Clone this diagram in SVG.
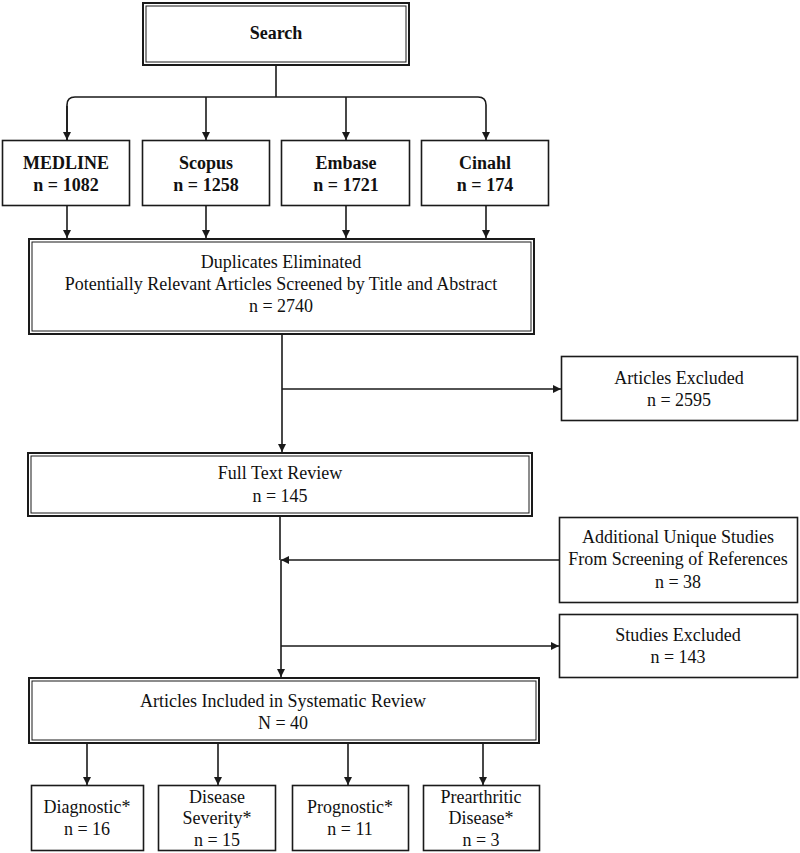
<svg xmlns="http://www.w3.org/2000/svg" width="800" height="853" viewBox="0 0 800 853">
<style>
  .bg{fill:#ffffff}
  .box{fill:#ffffff;stroke:#1a1a1a;stroke-width:1.6}
  .outer{fill:#ffffff;stroke:#1a1a1a;stroke-width:2}
  .inner{fill:none;stroke:#1a1a1a;stroke-width:1}
  .t{font-family:"Liberation Serif","Times New Roman",serif;font-size:18px;fill:#111;text-anchor:middle}
  .b{font-weight:bold}
  .ln{fill:none;stroke:#1a1a1a;stroke-width:1.6}
</style>
<defs>
  <marker id="ah" markerUnits="userSpaceOnUse" markerWidth="9" markerHeight="8" viewBox="0 0 10 10" refX="10" refY="5" orient="auto">
    <path d="M0,0 L10,5 L0,10 z" fill="#1a1a1a"/>
  </marker>
</defs>
<rect class="bg" x="0" y="0" width="800" height="853"/>

<g id="connectors">
  <path class="ln" d="M276,66 V97"/>
  <path class="ln" d="M67,140 V105 Q67,97 75,97 H478 Q486,97 486,105 V140" marker-end="url(#ah)"/>
  <path class="ln" d="M67,106 V140" marker-end="url(#ah)"/>
  <path class="ln" d="M206,97 V140" marker-end="url(#ah)"/>
  <path class="ln" d="M346,97 V140" marker-end="url(#ah)"/>
  <path class="ln" d="M67,206 V238" marker-end="url(#ah)"/>
  <path class="ln" d="M206,206 V238" marker-end="url(#ah)"/>
  <path class="ln" d="M346,206 V238" marker-end="url(#ah)"/>
  <path class="ln" d="M486,206 V238" marker-end="url(#ah)"/>
  <path class="ln" d="M282,334 V452" marker-end="url(#ah)"/>
  <path class="ln" d="M282,389 H561" marker-end="url(#ah)"/>
  <path class="ln" d="M280,516 V560"/>
  <path class="ln" d="M281,560 V677" marker-end="url(#ah)"/>
  <path class="ln" d="M559,560 H281" marker-end="url(#ah)"/>
  <path class="ln" d="M281,646 H559" marker-end="url(#ah)"/>
  <path class="ln" d="M87,743 V785" marker-end="url(#ah)"/>
  <path class="ln" d="M218,743 V785" marker-end="url(#ah)"/>
  <path class="ln" d="M348,743 V785" marker-end="url(#ah)"/>
  <path class="ln" d="M483,743 V785" marker-end="url(#ah)"/>
</g>

<g id="search">
  <rect class="outer" x="143" y="3" width="266" height="62"/>
  <rect class="inner" x="146" y="6" width="260" height="56"/>
  <text class="t b" x="276" y="39">Search</text>
</g>

<g id="medline">
  <rect class="box" x="2.5" y="140.5" width="127" height="65"/>
  <text class="t b" x="66" y="169">MEDLINE</text>
  <text class="t b" x="66" y="191">n = 1082</text>
</g>
<g id="scopus">
  <rect class="box" x="142.5" y="140.5" width="127" height="65"/>
  <text class="t b" x="206" y="169">Scopus</text>
  <text class="t b" x="206" y="191">n = 1258</text>
</g>
<g id="embase">
  <rect class="box" x="281.5" y="140.5" width="128" height="65"/>
  <text class="t b" x="346" y="169">Embase</text>
  <text class="t b" x="346" y="191">n = 1721</text>
</g>
<g id="cinahl">
  <rect class="box" x="421.5" y="140.5" width="127" height="65"/>
  <text class="t b" x="485" y="169">Cinahl</text>
  <text class="t b" x="485" y="191">n = 174</text>
</g>

<g id="duplicates">
  <rect class="outer" x="29" y="239" width="505" height="95"/>
  <rect class="inner" x="32" y="242" width="499" height="89"/>
  <text class="t" x="281" y="268">Duplicates Eliminated</text>
  <text class="t" x="281" y="290">Potentially Relevant Articles Screened by Title and Abstract</text>
  <text class="t" x="281" y="312">n = 2740</text>
</g>

<g id="articles-excluded">
  <rect class="box" x="561.5" y="356.5" width="236" height="64"/>
  <text class="t" x="679" y="384">Articles Excluded</text>
  <text class="t" x="679" y="406">n = 2595</text>
</g>

<g id="full-text">
  <rect class="outer" x="28" y="453" width="504" height="63"/>
  <rect class="inner" x="31" y="456" width="498" height="57"/>
  <text class="t" x="280" y="479">Full Text Review</text>
  <text class="t" x="280" y="502">n = 145</text>
</g>

<g id="additional">
  <rect class="box" x="559.5" y="517.5" width="238" height="85"/>
  <text class="t" x="678" y="543">Additional Unique Studies</text>
  <text class="t" x="678" y="565">From Screening of References</text>
  <text class="t" x="678" y="588">n = 38</text>
</g>

<g id="studies-excluded">
  <rect class="box" x="559.5" y="614.5" width="238" height="63"/>
  <text class="t" x="678" y="641">Studies Excluded</text>
  <text class="t" x="678" y="663">n = 143</text>
</g>

<g id="included">
  <rect class="outer" x="29" y="678" width="510" height="65"/>
  <rect class="inner" x="32" y="681" width="504" height="59"/>
  <text class="t" x="283" y="707">Articles Included in Systematic Review</text>
  <text class="t" x="283" y="729">N = 40</text>
</g>

<g id="diagnostic">
  <rect class="box" x="31.5" y="785.5" width="112" height="65"/>
  <text class="t" x="87" y="813">Diagnostic*</text>
  <text class="t" x="87" y="835">n = 16</text>
</g>
<g id="severity">
  <rect class="box" x="158.5" y="785.5" width="117" height="65"/>
  <text class="t" x="217" y="803">Disease</text>
  <text class="t" x="217" y="824">Severity*</text>
  <text class="t" x="217" y="846">n = 15</text>
</g>
<g id="prognostic">
  <rect class="box" x="292.5" y="785.5" width="116" height="65"/>
  <text class="t" x="350" y="813">Prognostic*</text>
  <text class="t" x="350" y="835">n = 11</text>
</g>
<g id="prearthritic">
  <rect class="box" x="423.5" y="785.5" width="116" height="65"/>
  <text class="t" x="481" y="803">Prearthritic</text>
  <text class="t" x="481" y="824">Disease*</text>
  <text class="t" x="481" y="846">n = 3</text>
</g>
</svg>
